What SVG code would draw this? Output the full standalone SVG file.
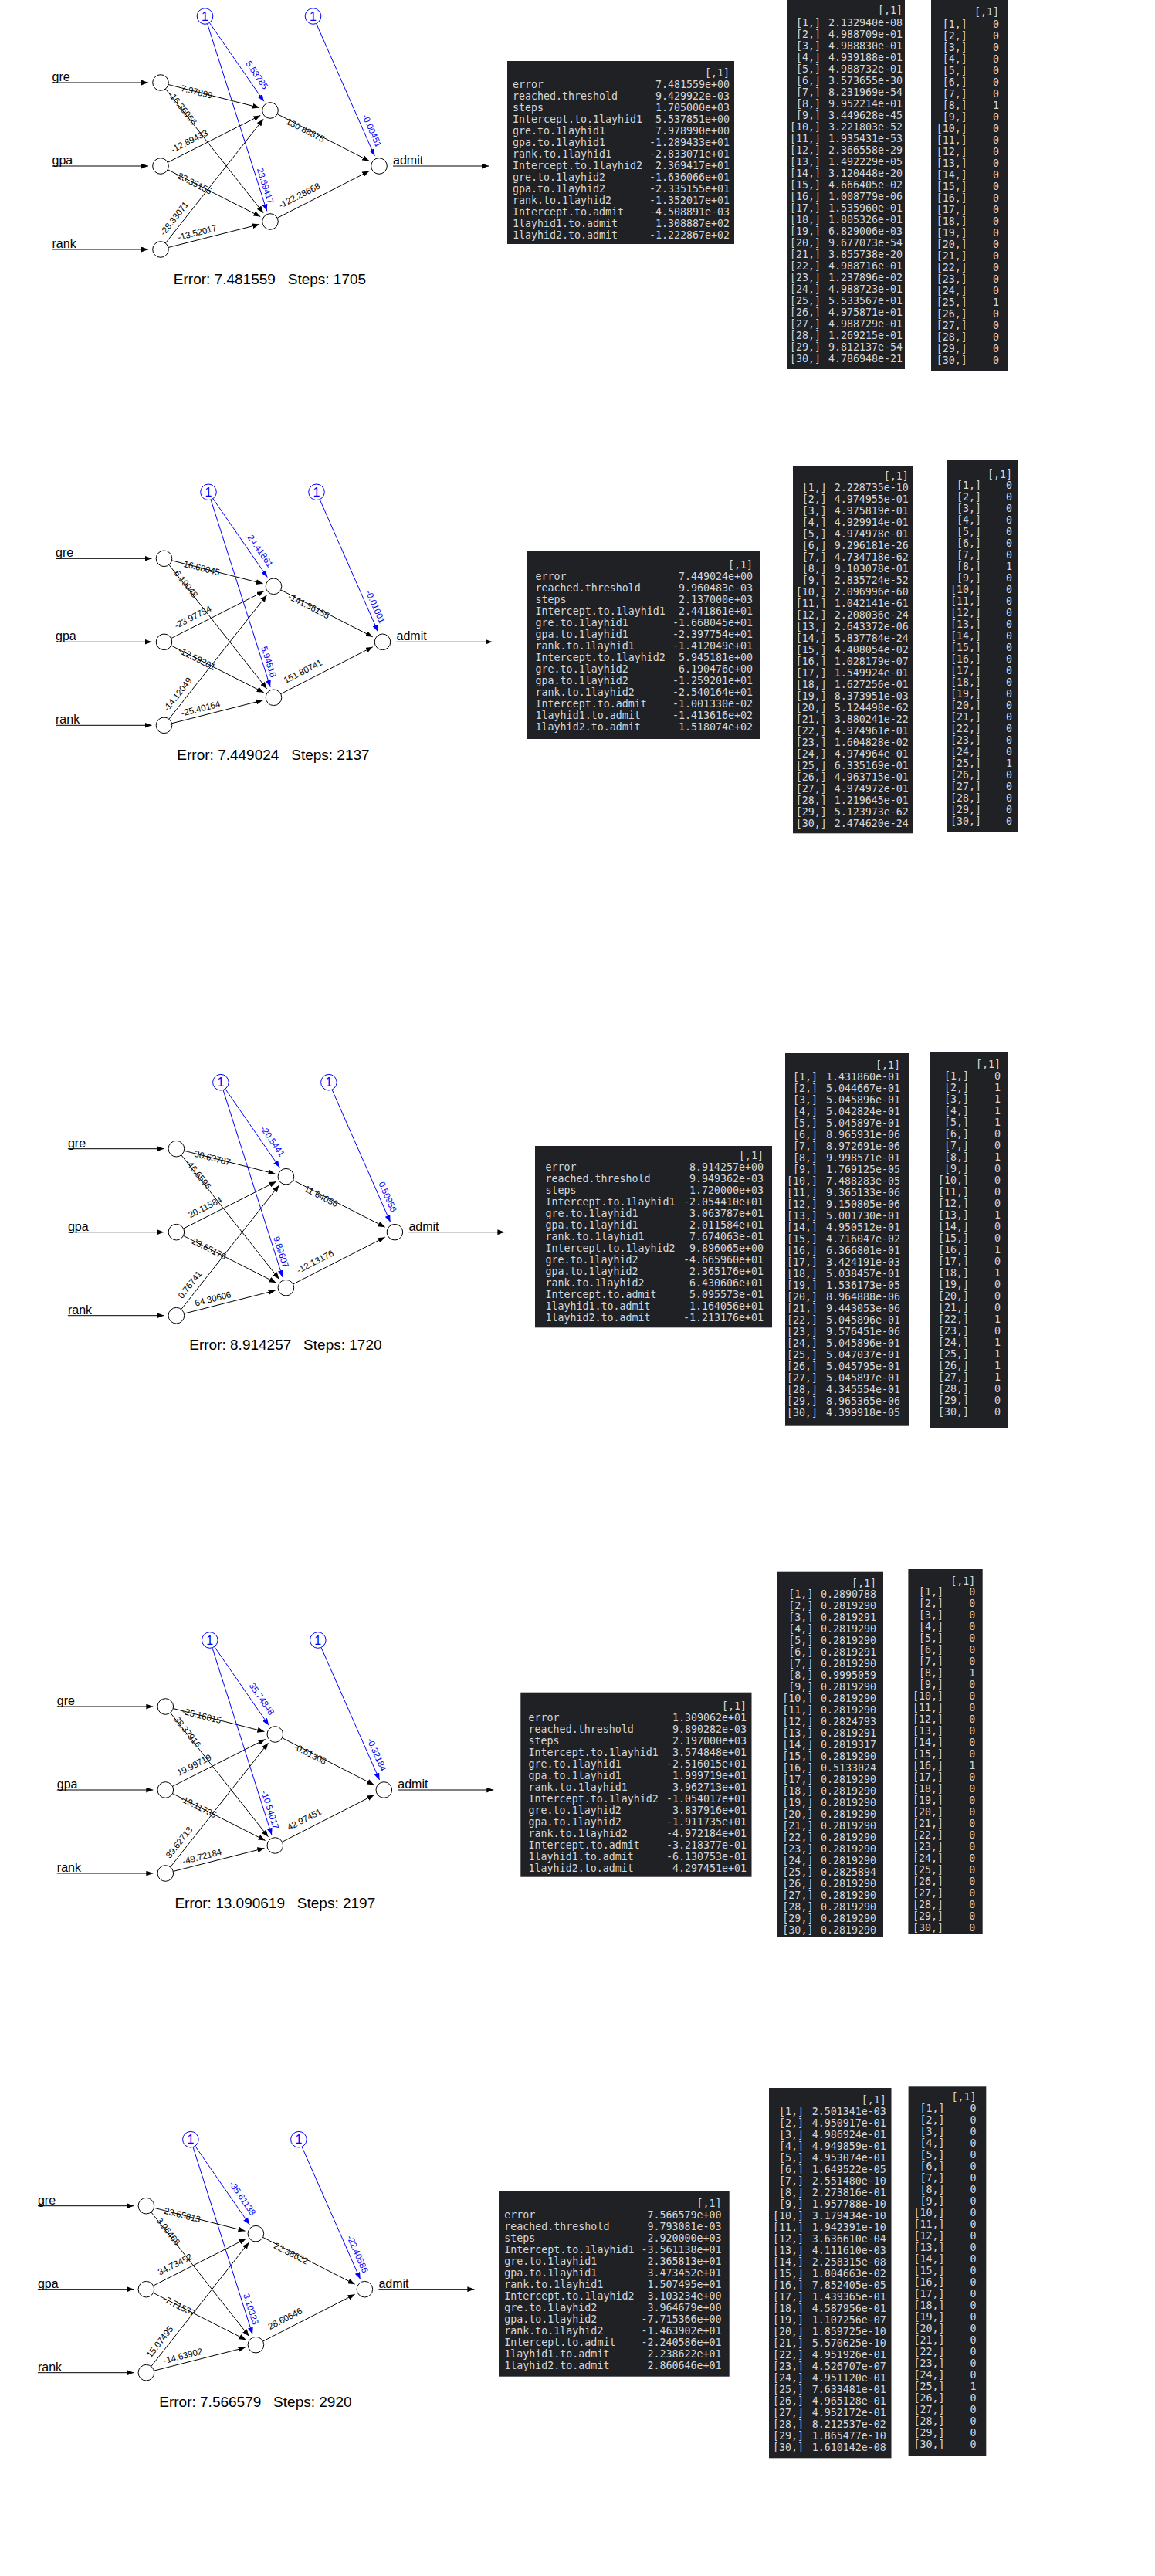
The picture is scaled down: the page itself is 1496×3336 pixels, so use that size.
<svg xmlns="http://www.w3.org/2000/svg" width="1496" height="3336" viewBox="0 0 1496 3336">
<style>
.bgp{fill:#fff}
.n{fill:#fff;stroke:#000;stroke-width:1}
.b{fill:#fff;stroke:#00f;stroke-width:1}
.bt{font-family:"Liberation Sans",Arial,sans-serif;font-size:16px;fill:#00f;text-anchor:middle;dominant-baseline:central}
.c path{fill:none;stroke:#000;stroke-width:1;marker-end:url(#ak)}
.c path.eb{stroke:#00f;marker-end:url(#ab)}
.w{font-family:"Liberation Sans",Arial,sans-serif;font-size:11.5px;fill:#000;text-anchor:middle;dominant-baseline:central}
.wb{fill:#00f}
.lab{font-family:"Liberation Sans",Arial,sans-serif;font-size:16px;fill:#000}
.err{font-family:"Liberation Sans",Arial,sans-serif;font-size:19px;fill:#000;text-anchor:middle;white-space:pre}
.tb{fill:#202124}
.t{font-family:"DejaVu Sans Mono","Liberation Mono",monospace;font-size:13.3px;fill:#d6d6d6;white-space:pre}
.r{text-anchor:end}
</style>
<defs>
<marker id="ak" viewBox="0 0 9 7" refX="9" refY="3.5" markerWidth="9" markerHeight="7" markerUnits="userSpaceOnUse" orient="auto"><path d="M0,0L9,3.5L0,7z" fill="#000"/></marker>
<marker id="ab" viewBox="0 0 9 7" refX="9" refY="3.5" markerWidth="9" markerHeight="7" markerUnits="userSpaceOnUse" orient="auto"><path d="M0,0L9,3.5L0,7z" fill="#00f"/></marker>
</defs>
<rect class="bgp" x="0" y="0" width="1496" height="3336"/>

<!-- ================= PANEL 1 ================= -->
<g id="p1" transform="translate(208,107)">
<g id="p1-connectors" class="c">
<path d="M-140.5,0H-16"/><path d="M-140.5,108H-16"/><path d="M-140.5,216H-16"/>
<path d="M9.98,2.53L128.14,32.49"/><path d="M6.38,8.09L133.14,168.77"/>
<path d="M9.19,103.34L129.25,42.47"/><path d="M9.19,112.66L129.25,173.53"/>
<path d="M6.38,207.91L133.14,47.23"/><path d="M9.98,213.47L128.14,183.51"/>
<path d="M151.17,40.68L270.26,101.5"/><path d="M151.17,175.32L270.26,114.5"/>
<path d="M301,108H425"/>
<path class="eb" d="M63.36,-77.53L133.86,24.25"/><path class="eb" d="M60.62,-76.18L137.67,166.37"/><path class="eb" d="M201.65,-76.57L277.23,94.91"/>
<text class="w" transform="translate(46.9,11.9) rotate(14.23)">7.97899</text>
<text class="w" transform="translate(28.6,33) rotate(51.74)">-16.36066</text>
<text class="w" transform="translate(37.2,75.7) rotate(-26.89)">-12.89433</text>
<text class="w" transform="translate(42.6,129.6) rotate(26.89)">-23.35155</text>
<text class="w" transform="translate(17.6,175.9) rotate(-51.74)">-28.33071</text>
<text class="w" transform="translate(47.4,194.2) rotate(-14.23)">-13.52017</text>
<text class="w" transform="translate(187.6,61.5) rotate(27.05)">130.88875</text>
<text class="w" transform="translate(179.8,146.1) rotate(-27.05)">-122.28668</text>
<text class="w wb" transform="translate(124.8,-9.9) rotate(55.29)">5.53785</text>
<text class="w wb" transform="translate(135.7,133.7) rotate(72.38)">23.69417</text>
<text class="w wb" transform="translate(273.8,62.3) rotate(66.22)">-0.00451</text>
</g>
<g id="p1-gre"><circle class="n" cx="0" cy="0" r="10.3"/><text class="lab" x="-140.5" y="-2">gre</text></g>
<g id="p1-gpa"><circle class="n" cx="0" cy="108" r="10.3"/><text class="lab" x="-140.5" y="106">gpa</text></g>
<g id="p1-rank"><circle class="n" cx="0" cy="216" r="10.3"/><text class="lab" x="-140.5" y="214">rank</text></g>
<g id="p1-h1"><circle class="n" cx="142" cy="36" r="10.3"/></g>
<g id="p1-h2"><circle class="n" cx="142" cy="180" r="10.3"/></g>
<g id="p1-admit"><circle class="n" cx="283" cy="108" r="10.3"/><text class="lab" x="301" y="106">admit</text></g>
<g id="p1-bias1"><circle class="b" cx="57.5" cy="-86" r="10.3"/><text class="bt" x="57.5" y="-86">1</text></g>
<g id="p1-bias2"><circle class="b" cx="197.5" cy="-86" r="10.3"/><text class="bt" x="197.5" y="-86">1</text></g>
<text class="err" x="141.5" y="260.5">Error: 7.481559   Steps: 1705</text>
</g>

<g id="p1-summary">
<rect class="tb" x="657" y="79" width="294" height="237"/>
<text class="t r" x="945" y="98.8">[,1]</text>
<text class="t" x="664" y="98.8"><tspan x="664" dy="15">error</tspan><tspan x="664" dy="15">reached.threshold</tspan><tspan x="664" dy="15">steps</tspan><tspan x="664" dy="15">Intercept.to.1layhid1</tspan><tspan x="664" dy="15">gre.to.1layhid1</tspan><tspan x="664" dy="15">gpa.to.1layhid1</tspan><tspan x="664" dy="15">rank.to.1layhid1</tspan><tspan x="664" dy="15">Intercept.to.1layhid2</tspan><tspan x="664" dy="15">gre.to.1layhid2</tspan><tspan x="664" dy="15">gpa.to.1layhid2</tspan><tspan x="664" dy="15">rank.to.1layhid2</tspan><tspan x="664" dy="15">Intercept.to.admit</tspan><tspan x="664" dy="15">1layhid1.to.admit</tspan><tspan x="664" dy="15">1layhid2.to.admit</tspan></text>
<text class="t r" y="98.8"><tspan x="945" dy="15">7.481559e+00</tspan><tspan x="945" dy="15">9.429922e-03</tspan><tspan x="945" dy="15">1.705000e+03</tspan><tspan x="945" dy="15">5.537851e+00</tspan><tspan x="945" dy="15">7.978990e+00</tspan><tspan x="945" dy="15">-1.289433e+01</tspan><tspan x="945" dy="15">-2.833071e+01</tspan><tspan x="945" dy="15">2.369417e+01</tspan><tspan x="945" dy="15">-1.636066e+01</tspan><tspan x="945" dy="15">-2.335155e+01</tspan><tspan x="945" dy="15">-1.352017e+01</tspan><tspan x="945" dy="15">-4.508891e-03</tspan><tspan x="945" dy="15">1.308887e+02</tspan><tspan x="945" dy="15">-1.222867e+02</tspan></text>
</g>

<g id="p1-probs">
<rect class="tb" x="1019" y="0" width="153" height="478"/>
<text class="t r" x="1169" y="17.8">[,1]</text>
<text class="t r" y="18.8"><tspan x="1063" dy="15">[1,]</tspan><tspan x="1063" dy="15">[2,]</tspan><tspan x="1063" dy="15">[3,]</tspan><tspan x="1063" dy="15">[4,]</tspan><tspan x="1063" dy="15">[5,]</tspan><tspan x="1063" dy="15">[6,]</tspan><tspan x="1063" dy="15">[7,]</tspan><tspan x="1063" dy="15">[8,]</tspan><tspan x="1063" dy="15">[9,]</tspan><tspan x="1063" dy="15">[10,]</tspan><tspan x="1063" dy="15">[11,]</tspan><tspan x="1063" dy="15">[12,]</tspan><tspan x="1063" dy="15">[13,]</tspan><tspan x="1063" dy="15">[14,]</tspan><tspan x="1063" dy="15">[15,]</tspan><tspan x="1063" dy="15">[16,]</tspan><tspan x="1063" dy="15">[17,]</tspan><tspan x="1063" dy="15">[18,]</tspan><tspan x="1063" dy="15">[19,]</tspan><tspan x="1063" dy="15">[20,]</tspan><tspan x="1063" dy="15">[21,]</tspan><tspan x="1063" dy="15">[22,]</tspan><tspan x="1063" dy="15">[23,]</tspan><tspan x="1063" dy="15">[24,]</tspan><tspan x="1063" dy="15">[25,]</tspan><tspan x="1063" dy="15">[26,]</tspan><tspan x="1063" dy="15">[27,]</tspan><tspan x="1063" dy="15">[28,]</tspan><tspan x="1063" dy="15">[29,]</tspan><tspan x="1063" dy="15">[30,]</tspan></text>
<text class="t r" y="18.8"><tspan x="1169" dy="15">2.132940e-08</tspan><tspan x="1169" dy="15">4.988709e-01</tspan><tspan x="1169" dy="15">4.988830e-01</tspan><tspan x="1169" dy="15">4.939188e-01</tspan><tspan x="1169" dy="15">4.988732e-01</tspan><tspan x="1169" dy="15">3.573655e-30</tspan><tspan x="1169" dy="15">8.231969e-54</tspan><tspan x="1169" dy="15">9.952214e-01</tspan><tspan x="1169" dy="15">3.449628e-45</tspan><tspan x="1169" dy="15">3.221803e-52</tspan><tspan x="1169" dy="15">1.935431e-53</tspan><tspan x="1169" dy="15">2.366558e-29</tspan><tspan x="1169" dy="15">1.492229e-05</tspan><tspan x="1169" dy="15">3.120448e-20</tspan><tspan x="1169" dy="15">4.666405e-02</tspan><tspan x="1169" dy="15">1.008779e-06</tspan><tspan x="1169" dy="15">1.535960e-01</tspan><tspan x="1169" dy="15">1.805326e-01</tspan><tspan x="1169" dy="15">6.829006e-03</tspan><tspan x="1169" dy="15">9.677073e-54</tspan><tspan x="1169" dy="15">3.855738e-20</tspan><tspan x="1169" dy="15">4.988716e-01</tspan><tspan x="1169" dy="15">1.237896e-02</tspan><tspan x="1169" dy="15">4.988723e-01</tspan><tspan x="1169" dy="15">5.533567e-01</tspan><tspan x="1169" dy="15">4.975871e-01</tspan><tspan x="1169" dy="15">4.988729e-01</tspan><tspan x="1169" dy="15">1.269215e-01</tspan><tspan x="1169" dy="15">9.812137e-54</tspan><tspan x="1169" dy="15">4.786948e-21</tspan></text>
</g>

<g id="p1-class">
<rect class="tb" x="1206" y="0" width="99" height="480"/>
<text class="t r" x="1294" y="19.5">[,1]</text>
<text class="t r" y="20.5"><tspan x="1252.7" dy="15">[1,]</tspan><tspan x="1252.7" dy="15">[2,]</tspan><tspan x="1252.7" dy="15">[3,]</tspan><tspan x="1252.7" dy="15">[4,]</tspan><tspan x="1252.7" dy="15">[5,]</tspan><tspan x="1252.7" dy="15">[6,]</tspan><tspan x="1252.7" dy="15">[7,]</tspan><tspan x="1252.7" dy="15">[8,]</tspan><tspan x="1252.7" dy="15">[9,]</tspan><tspan x="1252.7" dy="15">[10,]</tspan><tspan x="1252.7" dy="15">[11,]</tspan><tspan x="1252.7" dy="15">[12,]</tspan><tspan x="1252.7" dy="15">[13,]</tspan><tspan x="1252.7" dy="15">[14,]</tspan><tspan x="1252.7" dy="15">[15,]</tspan><tspan x="1252.7" dy="15">[16,]</tspan><tspan x="1252.7" dy="15">[17,]</tspan><tspan x="1252.7" dy="15">[18,]</tspan><tspan x="1252.7" dy="15">[19,]</tspan><tspan x="1252.7" dy="15">[20,]</tspan><tspan x="1252.7" dy="15">[21,]</tspan><tspan x="1252.7" dy="15">[22,]</tspan><tspan x="1252.7" dy="15">[23,]</tspan><tspan x="1252.7" dy="15">[24,]</tspan><tspan x="1252.7" dy="15">[25,]</tspan><tspan x="1252.7" dy="15">[26,]</tspan><tspan x="1252.7" dy="15">[27,]</tspan><tspan x="1252.7" dy="15">[28,]</tspan><tspan x="1252.7" dy="15">[29,]</tspan><tspan x="1252.7" dy="15">[30,]</tspan></text>
<text class="t r" y="20.5"><tspan x="1294" dy="15">0</tspan><tspan x="1294" dy="15">0</tspan><tspan x="1294" dy="15">0</tspan><tspan x="1294" dy="15">0</tspan><tspan x="1294" dy="15">0</tspan><tspan x="1294" dy="15">0</tspan><tspan x="1294" dy="15">0</tspan><tspan x="1294" dy="15">1</tspan><tspan x="1294" dy="15">0</tspan><tspan x="1294" dy="15">0</tspan><tspan x="1294" dy="15">0</tspan><tspan x="1294" dy="15">0</tspan><tspan x="1294" dy="15">0</tspan><tspan x="1294" dy="15">0</tspan><tspan x="1294" dy="15">0</tspan><tspan x="1294" dy="15">0</tspan><tspan x="1294" dy="15">0</tspan><tspan x="1294" dy="15">0</tspan><tspan x="1294" dy="15">0</tspan><tspan x="1294" dy="15">0</tspan><tspan x="1294" dy="15">0</tspan><tspan x="1294" dy="15">0</tspan><tspan x="1294" dy="15">0</tspan><tspan x="1294" dy="15">0</tspan><tspan x="1294" dy="15">1</tspan><tspan x="1294" dy="15">0</tspan><tspan x="1294" dy="15">0</tspan><tspan x="1294" dy="15">0</tspan><tspan x="1294" dy="15">0</tspan><tspan x="1294" dy="15">0</tspan></text>
</g>

<!-- ================= PANEL 2 ================= -->
<g id="p2" transform="translate(212.5,723.3)">
<g id="p2-connectors" class="c">
<path d="M-140.5,0H-16"/><path d="M-140.5,108H-16"/><path d="M-140.5,216H-16"/>
<path d="M9.98,2.53L128.14,32.49"/><path d="M6.38,8.09L133.14,168.77"/>
<path d="M9.19,103.34L129.25,42.47"/><path d="M9.19,112.66L129.25,173.53"/>
<path d="M6.38,207.91L133.14,47.23"/><path d="M9.98,213.47L128.14,183.51"/>
<path d="M151.17,40.68L270.26,101.5"/><path d="M151.17,175.32L270.26,114.5"/>
<path d="M301,108H425"/>
<path class="eb" d="M63.36,-77.53L133.86,24.25"/><path class="eb" d="M60.62,-76.18L137.67,166.37"/><path class="eb" d="M201.65,-76.57L277.23,94.91"/>
<text class="w" transform="translate(46.9,11.9) rotate(14.23)">-16.68045</text>
<text class="w" transform="translate(28.6,33) rotate(51.74)">6.19048</text>
<text class="w" transform="translate(37.2,75.7) rotate(-26.89)">-23.97754</text>
<text class="w" transform="translate(42.6,129.6) rotate(26.89)">-12.59201</text>
<text class="w" transform="translate(17.6,175.9) rotate(-51.74)">-14.12049</text>
<text class="w" transform="translate(47.4,194.2) rotate(-14.23)">-25.40164</text>
<text class="w" transform="translate(187.6,61.5) rotate(27.05)">-141.36155</text>
<text class="w" transform="translate(179.8,146.1) rotate(-27.05)">151.80741</text>
<text class="w wb" transform="translate(124.8,-9.9) rotate(55.29)">24.41861</text>
<text class="w wb" transform="translate(135.7,133.7) rotate(72.38)">5.94518</text>
<text class="w wb" transform="translate(273.8,62.3) rotate(66.22)">-0.01001</text>
</g>
<g id="p2-gre"><circle class="n" cx="0" cy="0" r="10.3"/><text class="lab" x="-140.5" y="-2">gre</text></g>
<g id="p2-gpa"><circle class="n" cx="0" cy="108" r="10.3"/><text class="lab" x="-140.5" y="106">gpa</text></g>
<g id="p2-rank"><circle class="n" cx="0" cy="216" r="10.3"/><text class="lab" x="-140.5" y="214">rank</text></g>
<g id="p2-h1"><circle class="n" cx="142" cy="36" r="10.3"/></g>
<g id="p2-h2"><circle class="n" cx="142" cy="180" r="10.3"/></g>
<g id="p2-admit"><circle class="n" cx="283" cy="108" r="10.3"/><text class="lab" x="301" y="106">admit</text></g>
<g id="p2-bias1"><circle class="b" cx="57.5" cy="-86" r="10.3"/><text class="bt" x="57.5" y="-86">1</text></g>
<g id="p2-bias2"><circle class="b" cx="197.5" cy="-86" r="10.3"/><text class="bt" x="197.5" y="-86">1</text></g>
<text class="err" x="141.5" y="260.5">Error: 7.449024   Steps: 2137</text>
</g>

<g id="p2-summary">
<rect class="tb" x="683" y="714" width="302" height="243"/>
<text class="t r" x="975" y="736.2">[,1]</text>
<text class="t" y="736.2"><tspan x="693.6" dy="15">error</tspan><tspan x="693.6" dy="15">reached.threshold</tspan><tspan x="693.6" dy="15">steps</tspan><tspan x="693.6" dy="15">Intercept.to.1layhid1</tspan><tspan x="693.6" dy="15">gre.to.1layhid1</tspan><tspan x="693.6" dy="15">gpa.to.1layhid1</tspan><tspan x="693.6" dy="15">rank.to.1layhid1</tspan><tspan x="693.6" dy="15">Intercept.to.1layhid2</tspan><tspan x="693.6" dy="15">gre.to.1layhid2</tspan><tspan x="693.6" dy="15">gpa.to.1layhid2</tspan><tspan x="693.6" dy="15">rank.to.1layhid2</tspan><tspan x="693.6" dy="15">Intercept.to.admit</tspan><tspan x="693.6" dy="15">1layhid1.to.admit</tspan><tspan x="693.6" dy="15">1layhid2.to.admit</tspan></text>
<text class="t r" y="736.2"><tspan x="975" dy="15">7.449024e+00</tspan><tspan x="975" dy="15">9.960483e-03</tspan><tspan x="975" dy="15">2.137000e+03</tspan><tspan x="975" dy="15">2.441861e+01</tspan><tspan x="975" dy="15">-1.668045e+01</tspan><tspan x="975" dy="15">-2.397754e+01</tspan><tspan x="975" dy="15">-1.412049e+01</tspan><tspan x="975" dy="15">5.945181e+00</tspan><tspan x="975" dy="15">6.190476e+00</tspan><tspan x="975" dy="15">-1.259201e+01</tspan><tspan x="975" dy="15">-2.540164e+01</tspan><tspan x="975" dy="15">-1.001330e-02</tspan><tspan x="975" dy="15">-1.413616e+02</tspan><tspan x="975" dy="15">1.518074e+02</tspan></text>
</g>

<g id="p2-probs">
<rect class="tb" x="1027" y="603.3" width="155" height="476"/>
<text class="t r" x="1176.8" y="621.2">[,1]</text>
<text class="t r" y="621.2"><tspan x="1070.7" dy="15">[1,]</tspan><tspan x="1070.7" dy="15">[2,]</tspan><tspan x="1070.7" dy="15">[3,]</tspan><tspan x="1070.7" dy="15">[4,]</tspan><tspan x="1070.7" dy="15">[5,]</tspan><tspan x="1070.7" dy="15">[6,]</tspan><tspan x="1070.7" dy="15">[7,]</tspan><tspan x="1070.7" dy="15">[8,]</tspan><tspan x="1070.7" dy="15">[9,]</tspan><tspan x="1070.7" dy="15">[10,]</tspan><tspan x="1070.7" dy="15">[11,]</tspan><tspan x="1070.7" dy="15">[12,]</tspan><tspan x="1070.7" dy="15">[13,]</tspan><tspan x="1070.7" dy="15">[14,]</tspan><tspan x="1070.7" dy="15">[15,]</tspan><tspan x="1070.7" dy="15">[16,]</tspan><tspan x="1070.7" dy="15">[17,]</tspan><tspan x="1070.7" dy="15">[18,]</tspan><tspan x="1070.7" dy="15">[19,]</tspan><tspan x="1070.7" dy="15">[20,]</tspan><tspan x="1070.7" dy="15">[21,]</tspan><tspan x="1070.7" dy="15">[22,]</tspan><tspan x="1070.7" dy="15">[23,]</tspan><tspan x="1070.7" dy="15">[24,]</tspan><tspan x="1070.7" dy="15">[25,]</tspan><tspan x="1070.7" dy="15">[26,]</tspan><tspan x="1070.7" dy="15">[27,]</tspan><tspan x="1070.7" dy="15">[28,]</tspan><tspan x="1070.7" dy="15">[29,]</tspan><tspan x="1070.7" dy="15">[30,]</tspan></text>
<text class="t r" y="621.2"><tspan x="1176.8" dy="15">2.228735e-10</tspan><tspan x="1176.8" dy="15">4.974955e-01</tspan><tspan x="1176.8" dy="15">4.975819e-01</tspan><tspan x="1176.8" dy="15">4.929914e-01</tspan><tspan x="1176.8" dy="15">4.974978e-01</tspan><tspan x="1176.8" dy="15">9.296181e-26</tspan><tspan x="1176.8" dy="15">4.734718e-62</tspan><tspan x="1176.8" dy="15">9.103078e-01</tspan><tspan x="1176.8" dy="15">2.835724e-52</tspan><tspan x="1176.8" dy="15">2.096996e-60</tspan><tspan x="1176.8" dy="15">1.042141e-61</tspan><tspan x="1176.8" dy="15">2.208036e-24</tspan><tspan x="1176.8" dy="15">2.643372e-06</tspan><tspan x="1176.8" dy="15">5.837784e-24</tspan><tspan x="1176.8" dy="15">4.408054e-02</tspan><tspan x="1176.8" dy="15">1.028179e-07</tspan><tspan x="1176.8" dy="15">1.549924e-01</tspan><tspan x="1176.8" dy="15">1.627256e-01</tspan><tspan x="1176.8" dy="15">8.373951e-03</tspan><tspan x="1176.8" dy="15">5.124498e-62</tspan><tspan x="1176.8" dy="15">3.880241e-22</tspan><tspan x="1176.8" dy="15">4.974961e-01</tspan><tspan x="1176.8" dy="15">1.604828e-02</tspan><tspan x="1176.8" dy="15">4.974964e-01</tspan><tspan x="1176.8" dy="15">6.335169e-01</tspan><tspan x="1176.8" dy="15">4.963715e-01</tspan><tspan x="1176.8" dy="15">4.974972e-01</tspan><tspan x="1176.8" dy="15">1.219645e-01</tspan><tspan x="1176.8" dy="15">5.123973e-62</tspan><tspan x="1176.8" dy="15">2.474620e-24</tspan></text>
</g>

<g id="p2-class">
<rect class="tb" x="1227" y="596" width="91" height="481"/>
<text class="t r" x="1311" y="618.5">[,1]</text>
<text class="t r" y="617.8"><tspan x="1271" dy="15">[1,]</tspan><tspan x="1271" dy="15">[2,]</tspan><tspan x="1271" dy="15">[3,]</tspan><tspan x="1271" dy="15">[4,]</tspan><tspan x="1271" dy="15">[5,]</tspan><tspan x="1271" dy="15">[6,]</tspan><tspan x="1271" dy="15">[7,]</tspan><tspan x="1271" dy="15">[8,]</tspan><tspan x="1271" dy="15">[9,]</tspan><tspan x="1271" dy="15">[10,]</tspan><tspan x="1271" dy="15">[11,]</tspan><tspan x="1271" dy="15">[12,]</tspan><tspan x="1271" dy="15">[13,]</tspan><tspan x="1271" dy="15">[14,]</tspan><tspan x="1271" dy="15">[15,]</tspan><tspan x="1271" dy="15">[16,]</tspan><tspan x="1271" dy="15">[17,]</tspan><tspan x="1271" dy="15">[18,]</tspan><tspan x="1271" dy="15">[19,]</tspan><tspan x="1271" dy="15">[20,]</tspan><tspan x="1271" dy="15">[21,]</tspan><tspan x="1271" dy="15">[22,]</tspan><tspan x="1271" dy="15">[23,]</tspan><tspan x="1271" dy="15">[24,]</tspan><tspan x="1271" dy="15">[25,]</tspan><tspan x="1271" dy="15">[26,]</tspan><tspan x="1271" dy="15">[27,]</tspan><tspan x="1271" dy="15">[28,]</tspan><tspan x="1271" dy="15">[29,]</tspan><tspan x="1271" dy="15">[30,]</tspan></text>
<text class="t r" y="617.8"><tspan x="1311" dy="15">0</tspan><tspan x="1311" dy="15">0</tspan><tspan x="1311" dy="15">0</tspan><tspan x="1311" dy="15">0</tspan><tspan x="1311" dy="15">0</tspan><tspan x="1311" dy="15">0</tspan><tspan x="1311" dy="15">0</tspan><tspan x="1311" dy="15">1</tspan><tspan x="1311" dy="15">0</tspan><tspan x="1311" dy="15">0</tspan><tspan x="1311" dy="15">0</tspan><tspan x="1311" dy="15">0</tspan><tspan x="1311" dy="15">0</tspan><tspan x="1311" dy="15">0</tspan><tspan x="1311" dy="15">0</tspan><tspan x="1311" dy="15">0</tspan><tspan x="1311" dy="15">0</tspan><tspan x="1311" dy="15">0</tspan><tspan x="1311" dy="15">0</tspan><tspan x="1311" dy="15">0</tspan><tspan x="1311" dy="15">0</tspan><tspan x="1311" dy="15">0</tspan><tspan x="1311" dy="15">0</tspan><tspan x="1311" dy="15">0</tspan><tspan x="1311" dy="15">1</tspan><tspan x="1311" dy="15">0</tspan><tspan x="1311" dy="15">0</tspan><tspan x="1311" dy="15">0</tspan><tspan x="1311" dy="15">0</tspan><tspan x="1311" dy="15">0</tspan></text>
</g>

<!-- ================= PANEL 3 ================= -->
<g id="p3" transform="translate(228.4,1487.7)">
<g id="p3-connectors" class="c">
<path d="M-140.5,0H-16"/><path d="M-140.5,108H-16"/><path d="M-140.5,216H-16"/>
<path d="M9.98,2.53L128.14,32.49"/><path d="M6.38,8.09L133.14,168.77"/>
<path d="M9.19,103.34L129.25,42.47"/><path d="M9.19,112.66L129.25,173.53"/>
<path d="M6.38,207.91L133.14,47.23"/><path d="M9.98,213.47L128.14,183.51"/>
<path d="M151.17,40.68L270.26,101.5"/><path d="M151.17,175.32L270.26,114.5"/>
<path d="M301,108H425"/>
<path class="eb" d="M63.36,-77.53L133.86,24.25"/><path class="eb" d="M60.62,-76.18L137.67,166.37"/><path class="eb" d="M201.65,-76.57L277.23,94.91"/>
<text class="w" transform="translate(46.9,11.9) rotate(14.23)">30.63787</text>
<text class="w" transform="translate(28.6,33) rotate(51.74)">-46.6596</text>
<text class="w" transform="translate(37.2,75.7) rotate(-26.89)">20.11584</text>
<text class="w" transform="translate(42.6,129.6) rotate(26.89)">23.65176</text>
<text class="w" transform="translate(17.6,175.9) rotate(-51.74)">0.76741</text>
<text class="w" transform="translate(47.4,194.2) rotate(-14.23)">64.30606</text>
<text class="w" transform="translate(187.6,61.5) rotate(27.05)">11.64056</text>
<text class="w" transform="translate(179.8,146.1) rotate(-27.05)">-12.13176</text>
<text class="w wb" transform="translate(124.8,-9.9) rotate(55.29)">-20.5441</text>
<text class="w wb" transform="translate(135.7,133.7) rotate(72.38)">9.89607</text>
<text class="w wb" transform="translate(273.8,62.3) rotate(66.22)">0.50956</text>
</g>
<g id="p3-gre"><circle class="n" cx="0" cy="0" r="10.3"/><text class="lab" x="-140.5" y="-2">gre</text></g>
<g id="p3-gpa"><circle class="n" cx="0" cy="108" r="10.3"/><text class="lab" x="-140.5" y="106">gpa</text></g>
<g id="p3-rank"><circle class="n" cx="0" cy="216" r="10.3"/><text class="lab" x="-140.5" y="214">rank</text></g>
<g id="p3-h1"><circle class="n" cx="142" cy="36" r="10.3"/></g>
<g id="p3-h2"><circle class="n" cx="142" cy="180" r="10.3"/></g>
<g id="p3-admit"><circle class="n" cx="283" cy="108" r="10.3"/><text class="lab" x="301" y="106">admit</text></g>
<g id="p3-bias1"><circle class="b" cx="57.5" cy="-86" r="10.3"/><text class="bt" x="57.5" y="-86">1</text></g>
<g id="p3-bias2"><circle class="b" cx="197.5" cy="-86" r="10.3"/><text class="bt" x="197.5" y="-86">1</text></g>
<text class="err" x="141.5" y="260.5">Error: 8.914257   Steps: 1720</text>
</g>

<g id="p3-summary">
<rect class="tb" x="693" y="1484" width="307" height="235.3"/>
<text class="t r" x="989" y="1501.2">[,1]</text>
<text class="t" y="1501.2"><tspan x="706.4" dy="15">error</tspan><tspan x="706.4" dy="15">reached.threshold</tspan><tspan x="706.4" dy="15">steps</tspan><tspan x="706.4" dy="15">Intercept.to.1layhid1</tspan><tspan x="706.4" dy="15">gre.to.1layhid1</tspan><tspan x="706.4" dy="15">gpa.to.1layhid1</tspan><tspan x="706.4" dy="15">rank.to.1layhid1</tspan><tspan x="706.4" dy="15">Intercept.to.1layhid2</tspan><tspan x="706.4" dy="15">gre.to.1layhid2</tspan><tspan x="706.4" dy="15">gpa.to.1layhid2</tspan><tspan x="706.4" dy="15">rank.to.1layhid2</tspan><tspan x="706.4" dy="15">Intercept.to.admit</tspan><tspan x="706.4" dy="15">1layhid1.to.admit</tspan><tspan x="706.4" dy="15">1layhid2.to.admit</tspan></text>
<text class="t r" y="1501.2"><tspan x="989" dy="15">8.914257e+00</tspan><tspan x="989" dy="15">9.949362e-03</tspan><tspan x="989" dy="15">1.720000e+03</tspan><tspan x="989" dy="15">-2.054410e+01</tspan><tspan x="989" dy="15">3.063787e+01</tspan><tspan x="989" dy="15">2.011584e+01</tspan><tspan x="989" dy="15">7.674063e-01</tspan><tspan x="989" dy="15">9.896065e+00</tspan><tspan x="989" dy="15">-4.665960e+01</tspan><tspan x="989" dy="15">2.365176e+01</tspan><tspan x="989" dy="15">6.430606e+01</tspan><tspan x="989" dy="15">5.095573e-01</tspan><tspan x="989" dy="15">1.164056e+01</tspan><tspan x="989" dy="15">-1.213176e+01</tspan></text>
</g>

<g id="p3-probs">
<rect class="tb" x="1017" y="1364" width="160" height="482.7"/>
<text class="t r" x="1166" y="1383.8">[,1]</text>
<text class="t r" y="1383.8"><tspan x="1059" dy="15">[1,]</tspan><tspan x="1059" dy="15">[2,]</tspan><tspan x="1059" dy="15">[3,]</tspan><tspan x="1059" dy="15">[4,]</tspan><tspan x="1059" dy="15">[5,]</tspan><tspan x="1059" dy="15">[6,]</tspan><tspan x="1059" dy="15">[7,]</tspan><tspan x="1059" dy="15">[8,]</tspan><tspan x="1059" dy="15">[9,]</tspan><tspan x="1059" dy="15">[10,]</tspan><tspan x="1059" dy="15">[11,]</tspan><tspan x="1059" dy="15">[12,]</tspan><tspan x="1059" dy="15">[13,]</tspan><tspan x="1059" dy="15">[14,]</tspan><tspan x="1059" dy="15">[15,]</tspan><tspan x="1059" dy="15">[16,]</tspan><tspan x="1059" dy="15">[17,]</tspan><tspan x="1059" dy="15">[18,]</tspan><tspan x="1059" dy="15">[19,]</tspan><tspan x="1059" dy="15">[20,]</tspan><tspan x="1059" dy="15">[21,]</tspan><tspan x="1059" dy="15">[22,]</tspan><tspan x="1059" dy="15">[23,]</tspan><tspan x="1059" dy="15">[24,]</tspan><tspan x="1059" dy="15">[25,]</tspan><tspan x="1059" dy="15">[26,]</tspan><tspan x="1059" dy="15">[27,]</tspan><tspan x="1059" dy="15">[28,]</tspan><tspan x="1059" dy="15">[29,]</tspan><tspan x="1059" dy="15">[30,]</tspan></text>
<text class="t r" y="1383.8"><tspan x="1166" dy="15">1.431860e-01</tspan><tspan x="1166" dy="15">5.044667e-01</tspan><tspan x="1166" dy="15">5.045896e-01</tspan><tspan x="1166" dy="15">5.042824e-01</tspan><tspan x="1166" dy="15">5.045897e-01</tspan><tspan x="1166" dy="15">8.965931e-06</tspan><tspan x="1166" dy="15">8.972691e-06</tspan><tspan x="1166" dy="15">9.998571e-01</tspan><tspan x="1166" dy="15">1.769125e-05</tspan><tspan x="1166" dy="15">7.488283e-05</tspan><tspan x="1166" dy="15">9.365133e-06</tspan><tspan x="1166" dy="15">9.150805e-06</tspan><tspan x="1166" dy="15">5.001730e-01</tspan><tspan x="1166" dy="15">4.950512e-01</tspan><tspan x="1166" dy="15">4.716047e-02</tspan><tspan x="1166" dy="15">6.366801e-01</tspan><tspan x="1166" dy="15">3.424191e-03</tspan><tspan x="1166" dy="15">5.038457e-01</tspan><tspan x="1166" dy="15">1.536173e-05</tspan><tspan x="1166" dy="15">8.964888e-06</tspan><tspan x="1166" dy="15">9.443053e-06</tspan><tspan x="1166" dy="15">5.045896e-01</tspan><tspan x="1166" dy="15">9.576451e-06</tspan><tspan x="1166" dy="15">5.045896e-01</tspan><tspan x="1166" dy="15">5.047037e-01</tspan><tspan x="1166" dy="15">5.045795e-01</tspan><tspan x="1166" dy="15">5.045897e-01</tspan><tspan x="1166" dy="15">4.345554e-01</tspan><tspan x="1166" dy="15">8.965365e-06</tspan><tspan x="1166" dy="15">4.399918e-05</tspan></text>
</g>

<g id="p3-class">
<rect class="tb" x="1204" y="1362" width="101" height="487"/>
<text class="t r" x="1296" y="1382.8">[,1]</text>
<text class="t r" y="1382.8"><tspan x="1255" dy="15">[1,]</tspan><tspan x="1255" dy="15">[2,]</tspan><tspan x="1255" dy="15">[3,]</tspan><tspan x="1255" dy="15">[4,]</tspan><tspan x="1255" dy="15">[5,]</tspan><tspan x="1255" dy="15">[6,]</tspan><tspan x="1255" dy="15">[7,]</tspan><tspan x="1255" dy="15">[8,]</tspan><tspan x="1255" dy="15">[9,]</tspan><tspan x="1255" dy="15">[10,]</tspan><tspan x="1255" dy="15">[11,]</tspan><tspan x="1255" dy="15">[12,]</tspan><tspan x="1255" dy="15">[13,]</tspan><tspan x="1255" dy="15">[14,]</tspan><tspan x="1255" dy="15">[15,]</tspan><tspan x="1255" dy="15">[16,]</tspan><tspan x="1255" dy="15">[17,]</tspan><tspan x="1255" dy="15">[18,]</tspan><tspan x="1255" dy="15">[19,]</tspan><tspan x="1255" dy="15">[20,]</tspan><tspan x="1255" dy="15">[21,]</tspan><tspan x="1255" dy="15">[22,]</tspan><tspan x="1255" dy="15">[23,]</tspan><tspan x="1255" dy="15">[24,]</tspan><tspan x="1255" dy="15">[25,]</tspan><tspan x="1255" dy="15">[26,]</tspan><tspan x="1255" dy="15">[27,]</tspan><tspan x="1255" dy="15">[28,]</tspan><tspan x="1255" dy="15">[29,]</tspan><tspan x="1255" dy="15">[30,]</tspan></text>
<text class="t r" y="1382.8"><tspan x="1296" dy="15">0</tspan><tspan x="1296" dy="15">1</tspan><tspan x="1296" dy="15">1</tspan><tspan x="1296" dy="15">1</tspan><tspan x="1296" dy="15">1</tspan><tspan x="1296" dy="15">0</tspan><tspan x="1296" dy="15">0</tspan><tspan x="1296" dy="15">1</tspan><tspan x="1296" dy="15">0</tspan><tspan x="1296" dy="15">0</tspan><tspan x="1296" dy="15">0</tspan><tspan x="1296" dy="15">0</tspan><tspan x="1296" dy="15">1</tspan><tspan x="1296" dy="15">0</tspan><tspan x="1296" dy="15">0</tspan><tspan x="1296" dy="15">1</tspan><tspan x="1296" dy="15">0</tspan><tspan x="1296" dy="15">1</tspan><tspan x="1296" dy="15">0</tspan><tspan x="1296" dy="15">0</tspan><tspan x="1296" dy="15">0</tspan><tspan x="1296" dy="15">1</tspan><tspan x="1296" dy="15">0</tspan><tspan x="1296" dy="15">1</tspan><tspan x="1296" dy="15">1</tspan><tspan x="1296" dy="15">1</tspan><tspan x="1296" dy="15">1</tspan><tspan x="1296" dy="15">0</tspan><tspan x="1296" dy="15">0</tspan><tspan x="1296" dy="15">0</tspan></text>
</g>

<!-- ================= PANEL 4 ================= -->
<g id="p4" transform="translate(214.3,2210)">
<g id="p4-connectors" class="c">
<path d="M-140.5,0H-16"/><path d="M-140.5,108H-16"/><path d="M-140.5,216H-16"/>
<path d="M9.98,2.53L128.14,32.49"/><path d="M6.38,8.09L133.14,168.77"/>
<path d="M9.19,103.34L129.25,42.47"/><path d="M9.19,112.66L129.25,173.53"/>
<path d="M6.38,207.91L133.14,47.23"/><path d="M9.98,213.47L128.14,183.51"/>
<path d="M151.17,40.68L270.26,101.5"/><path d="M151.17,175.32L270.26,114.5"/>
<path d="M301,108H425"/>
<path class="eb" d="M63.36,-77.53L133.86,24.25"/><path class="eb" d="M60.62,-76.18L137.67,166.37"/><path class="eb" d="M201.65,-76.57L277.23,94.91"/>
<text class="w" transform="translate(46.9,11.9) rotate(14.23)">-25.16015</text>
<text class="w" transform="translate(28.6,33) rotate(51.74)">38.37916</text>
<text class="w" transform="translate(37.2,75.7) rotate(-26.89)">19.99719</text>
<text class="w" transform="translate(42.6,129.6) rotate(26.89)">-19.11735</text>
<text class="w" transform="translate(17.6,175.9) rotate(-51.74)">39.62713</text>
<text class="w" transform="translate(47.4,194.2) rotate(-14.23)">-49.72184</text>
<text class="w" transform="translate(187.6,61.5) rotate(27.05)">-0.61308</text>
<text class="w" transform="translate(179.8,146.1) rotate(-27.05)">42.97451</text>
<text class="w wb" transform="translate(124.8,-9.9) rotate(55.29)">35.74848</text>
<text class="w wb" transform="translate(135.7,133.7) rotate(72.38)">-10.54017</text>
<text class="w wb" transform="translate(273.8,62.3) rotate(66.22)">-0.32184</text>
</g>
<g id="p4-gre"><circle class="n" cx="0" cy="0" r="10.3"/><text class="lab" x="-140.5" y="-2">gre</text></g>
<g id="p4-gpa"><circle class="n" cx="0" cy="108" r="10.3"/><text class="lab" x="-140.5" y="106">gpa</text></g>
<g id="p4-rank"><circle class="n" cx="0" cy="216" r="10.3"/><text class="lab" x="-140.5" y="214">rank</text></g>
<g id="p4-h1"><circle class="n" cx="142" cy="36" r="10.3"/></g>
<g id="p4-h2"><circle class="n" cx="142" cy="180" r="10.3"/></g>
<g id="p4-admit"><circle class="n" cx="283" cy="108" r="10.3"/><text class="lab" x="301" y="106">admit</text></g>
<g id="p4-bias1"><circle class="b" cx="57.5" cy="-86" r="10.3"/><text class="bt" x="57.5" y="-86">1</text></g>
<g id="p4-bias2"><circle class="b" cx="197.5" cy="-86" r="10.3"/><text class="bt" x="197.5" y="-86">1</text></g>
<text class="err" x="142" y="260.5">Error: 13.090619   Steps: 2197</text>
</g>

<g id="p4-summary">
<rect class="tb" x="674.3" y="2191.7" width="299.2" height="239"/>
<text class="t r" x="967" y="2213.8">[,1]</text>
<text class="t" y="2213.8"><tspan x="684.6" dy="15">error</tspan><tspan x="684.6" dy="15">reached.threshold</tspan><tspan x="684.6" dy="15">steps</tspan><tspan x="684.6" dy="15">Intercept.to.1layhid1</tspan><tspan x="684.6" dy="15">gre.to.1layhid1</tspan><tspan x="684.6" dy="15">gpa.to.1layhid1</tspan><tspan x="684.6" dy="15">rank.to.1layhid1</tspan><tspan x="684.6" dy="15">Intercept.to.1layhid2</tspan><tspan x="684.6" dy="15">gre.to.1layhid2</tspan><tspan x="684.6" dy="15">gpa.to.1layhid2</tspan><tspan x="684.6" dy="15">rank.to.1layhid2</tspan><tspan x="684.6" dy="15">Intercept.to.admit</tspan><tspan x="684.6" dy="15">1layhid1.to.admit</tspan><tspan x="684.6" dy="15">1layhid2.to.admit</tspan></text>
<text class="t r" y="2213.8"><tspan x="967" dy="15">1.309062e+01</tspan><tspan x="967" dy="15">9.890282e-03</tspan><tspan x="967" dy="15">2.197000e+03</tspan><tspan x="967" dy="15">3.574848e+01</tspan><tspan x="967" dy="15">-2.516015e+01</tspan><tspan x="967" dy="15">1.999719e+01</tspan><tspan x="967" dy="15">3.962713e+01</tspan><tspan x="967" dy="15">-1.054017e+01</tspan><tspan x="967" dy="15">3.837916e+01</tspan><tspan x="967" dy="15">-1.911735e+01</tspan><tspan x="967" dy="15">-4.972184e+01</tspan><tspan x="967" dy="15">-3.218377e-01</tspan><tspan x="967" dy="15">-6.130753e-01</tspan><tspan x="967" dy="15">4.297451e+01</tspan></text>
</g>

<g id="p4-probs">
<rect class="tb" x="1006.9" y="2035.7" width="137.1" height="473.3"/>
<text class="t r" x="1135" y="2054.5">[,1]</text>
<text class="t r" y="2053.8"><tspan x="1053.4" dy="15">[1,]</tspan><tspan x="1053.4" dy="15">[2,]</tspan><tspan x="1053.4" dy="15">[3,]</tspan><tspan x="1053.4" dy="15">[4,]</tspan><tspan x="1053.4" dy="15">[5,]</tspan><tspan x="1053.4" dy="15">[6,]</tspan><tspan x="1053.4" dy="15">[7,]</tspan><tspan x="1053.4" dy="15">[8,]</tspan><tspan x="1053.4" dy="15">[9,]</tspan><tspan x="1053.4" dy="15">[10,]</tspan><tspan x="1053.4" dy="15">[11,]</tspan><tspan x="1053.4" dy="15">[12,]</tspan><tspan x="1053.4" dy="15">[13,]</tspan><tspan x="1053.4" dy="15">[14,]</tspan><tspan x="1053.4" dy="15">[15,]</tspan><tspan x="1053.4" dy="15">[16,]</tspan><tspan x="1053.4" dy="15">[17,]</tspan><tspan x="1053.4" dy="15">[18,]</tspan><tspan x="1053.4" dy="15">[19,]</tspan><tspan x="1053.4" dy="15">[20,]</tspan><tspan x="1053.4" dy="15">[21,]</tspan><tspan x="1053.4" dy="15">[22,]</tspan><tspan x="1053.4" dy="15">[23,]</tspan><tspan x="1053.4" dy="15">[24,]</tspan><tspan x="1053.4" dy="15">[25,]</tspan><tspan x="1053.4" dy="15">[26,]</tspan><tspan x="1053.4" dy="15">[27,]</tspan><tspan x="1053.4" dy="15">[28,]</tspan><tspan x="1053.4" dy="15">[29,]</tspan><tspan x="1053.4" dy="15">[30,]</tspan></text>
<text class="t r" y="2053.8"><tspan x="1135" dy="15">0.2890788</tspan><tspan x="1135" dy="15">0.2819290</tspan><tspan x="1135" dy="15">0.2819291</tspan><tspan x="1135" dy="15">0.2819290</tspan><tspan x="1135" dy="15">0.2819290</tspan><tspan x="1135" dy="15">0.2819291</tspan><tspan x="1135" dy="15">0.2819290</tspan><tspan x="1135" dy="15">0.9995059</tspan><tspan x="1135" dy="15">0.2819290</tspan><tspan x="1135" dy="15">0.2819290</tspan><tspan x="1135" dy="15">0.2819290</tspan><tspan x="1135" dy="15">0.2824793</tspan><tspan x="1135" dy="15">0.2819291</tspan><tspan x="1135" dy="15">0.2819317</tspan><tspan x="1135" dy="15">0.2819290</tspan><tspan x="1135" dy="15">0.5133024</tspan><tspan x="1135" dy="15">0.2819290</tspan><tspan x="1135" dy="15">0.2819290</tspan><tspan x="1135" dy="15">0.2819290</tspan><tspan x="1135" dy="15">0.2819290</tspan><tspan x="1135" dy="15">0.2819290</tspan><tspan x="1135" dy="15">0.2819290</tspan><tspan x="1135" dy="15">0.2819290</tspan><tspan x="1135" dy="15">0.2819290</tspan><tspan x="1135" dy="15">0.2825894</tspan><tspan x="1135" dy="15">0.2819290</tspan><tspan x="1135" dy="15">0.2819290</tspan><tspan x="1135" dy="15">0.2819290</tspan><tspan x="1135" dy="15">0.2819290</tspan><tspan x="1135" dy="15">0.2819290</tspan></text>
</g>

<g id="p4-class">
<rect class="tb" x="1176.4" y="2032" width="96.3" height="473"/>
<text class="t r" x="1263.3" y="2051.8">[,1]</text>
<text class="t r" y="2051.2"><tspan x="1222" dy="15">[1,]</tspan><tspan x="1222" dy="15">[2,]</tspan><tspan x="1222" dy="15">[3,]</tspan><tspan x="1222" dy="15">[4,]</tspan><tspan x="1222" dy="15">[5,]</tspan><tspan x="1222" dy="15">[6,]</tspan><tspan x="1222" dy="15">[7,]</tspan><tspan x="1222" dy="15">[8,]</tspan><tspan x="1222" dy="15">[9,]</tspan><tspan x="1222" dy="15">[10,]</tspan><tspan x="1222" dy="15">[11,]</tspan><tspan x="1222" dy="15">[12,]</tspan><tspan x="1222" dy="15">[13,]</tspan><tspan x="1222" dy="15">[14,]</tspan><tspan x="1222" dy="15">[15,]</tspan><tspan x="1222" dy="15">[16,]</tspan><tspan x="1222" dy="15">[17,]</tspan><tspan x="1222" dy="15">[18,]</tspan><tspan x="1222" dy="15">[19,]</tspan><tspan x="1222" dy="15">[20,]</tspan><tspan x="1222" dy="15">[21,]</tspan><tspan x="1222" dy="15">[22,]</tspan><tspan x="1222" dy="15">[23,]</tspan><tspan x="1222" dy="15">[24,]</tspan><tspan x="1222" dy="15">[25,]</tspan><tspan x="1222" dy="15">[26,]</tspan><tspan x="1222" dy="15">[27,]</tspan><tspan x="1222" dy="15">[28,]</tspan><tspan x="1222" dy="15">[29,]</tspan><tspan x="1222" dy="15">[30,]</tspan></text>
<text class="t r" y="2051.2"><tspan x="1263.3" dy="15">0</tspan><tspan x="1263.3" dy="15">0</tspan><tspan x="1263.3" dy="15">0</tspan><tspan x="1263.3" dy="15">0</tspan><tspan x="1263.3" dy="15">0</tspan><tspan x="1263.3" dy="15">0</tspan><tspan x="1263.3" dy="15">0</tspan><tspan x="1263.3" dy="15">1</tspan><tspan x="1263.3" dy="15">0</tspan><tspan x="1263.3" dy="15">0</tspan><tspan x="1263.3" dy="15">0</tspan><tspan x="1263.3" dy="15">0</tspan><tspan x="1263.3" dy="15">0</tspan><tspan x="1263.3" dy="15">0</tspan><tspan x="1263.3" dy="15">0</tspan><tspan x="1263.3" dy="15">1</tspan><tspan x="1263.3" dy="15">0</tspan><tspan x="1263.3" dy="15">0</tspan><tspan x="1263.3" dy="15">0</tspan><tspan x="1263.3" dy="15">0</tspan><tspan x="1263.3" dy="15">0</tspan><tspan x="1263.3" dy="15">0</tspan><tspan x="1263.3" dy="15">0</tspan><tspan x="1263.3" dy="15">0</tspan><tspan x="1263.3" dy="15">0</tspan><tspan x="1263.3" dy="15">0</tspan><tspan x="1263.3" dy="15">0</tspan><tspan x="1263.3" dy="15">0</tspan><tspan x="1263.3" dy="15">0</tspan><tspan x="1263.3" dy="15">0</tspan></text>
</g>

<!-- ================= PANEL 5 ================= -->
<g id="p5" transform="translate(189.4,2856.7)">
<g id="p5-connectors" class="c">
<path d="M-140.5,0H-16"/><path d="M-140.5,108H-16"/><path d="M-140.5,216H-16"/>
<path d="M9.98,2.53L128.14,32.49"/><path d="M6.38,8.09L133.14,168.77"/>
<path d="M9.19,103.34L129.25,42.47"/><path d="M9.19,112.66L129.25,173.53"/>
<path d="M6.38,207.91L133.14,47.23"/><path d="M9.98,213.47L128.14,183.51"/>
<path d="M151.17,40.68L270.26,101.5"/><path d="M151.17,175.32L270.26,114.5"/>
<path d="M301,108H425"/>
<path class="eb" d="M63.36,-77.53L133.86,24.25"/><path class="eb" d="M60.62,-76.18L137.67,166.37"/><path class="eb" d="M201.65,-76.57L277.23,94.91"/>
<text class="w" transform="translate(46.9,11.9) rotate(14.23)">23.65813</text>
<text class="w" transform="translate(28.6,33) rotate(51.74)">3.96468</text>
<text class="w" transform="translate(37.2,75.7) rotate(-26.89)">34.73452</text>
<text class="w" transform="translate(42.6,129.6) rotate(26.89)">-7.71537</text>
<text class="w" transform="translate(17.6,175.9) rotate(-51.74)">15.07495</text>
<text class="w" transform="translate(47.4,194.2) rotate(-14.23)">-14.63902</text>
<text class="w" transform="translate(187.6,61.5) rotate(27.05)">22.38622</text>
<text class="w" transform="translate(179.8,146.1) rotate(-27.05)">28.60646</text>
<text class="w wb" transform="translate(124.8,-9.9) rotate(55.29)">-35.61138</text>
<text class="w wb" transform="translate(135.7,133.7) rotate(72.38)">3.10323</text>
<text class="w wb" transform="translate(273.8,62.3) rotate(66.22)">-22.40586</text>
</g>
<g id="p5-gre"><circle class="n" cx="0" cy="0" r="10.3"/><text class="lab" x="-140.5" y="-2">gre</text></g>
<g id="p5-gpa"><circle class="n" cx="0" cy="108" r="10.3"/><text class="lab" x="-140.5" y="106">gpa</text></g>
<g id="p5-rank"><circle class="n" cx="0" cy="216" r="10.3"/><text class="lab" x="-140.5" y="214">rank</text></g>
<g id="p5-h1"><circle class="n" cx="142" cy="36" r="10.3"/></g>
<g id="p5-h2"><circle class="n" cx="142" cy="180" r="10.3"/></g>
<g id="p5-admit"><circle class="n" cx="283" cy="108" r="10.3"/><text class="lab" x="301" y="106">admit</text></g>
<g id="p5-bias1"><circle class="b" cx="57.5" cy="-86" r="10.3"/><text class="bt" x="57.5" y="-86">1</text></g>
<g id="p5-bias2"><circle class="b" cx="197.5" cy="-86" r="10.3"/><text class="bt" x="197.5" y="-86">1</text></g>
<text class="err" x="141.5" y="260.5">Error: 7.566579   Steps: 2920</text>
</g>

<g id="p5-summary">
<rect class="tb" x="646" y="2838" width="298.7" height="239.7"/>
<text class="t r" x="934.6" y="2857.8">[,1]</text>
<text class="t" y="2857.8"><tspan x="653.3" dy="15">error</tspan><tspan x="653.3" dy="15">reached.threshold</tspan><tspan x="653.3" dy="15">steps</tspan><tspan x="653.3" dy="15">Intercept.to.1layhid1</tspan><tspan x="653.3" dy="15">gre.to.1layhid1</tspan><tspan x="653.3" dy="15">gpa.to.1layhid1</tspan><tspan x="653.3" dy="15">rank.to.1layhid1</tspan><tspan x="653.3" dy="15">Intercept.to.1layhid2</tspan><tspan x="653.3" dy="15">gre.to.1layhid2</tspan><tspan x="653.3" dy="15">gpa.to.1layhid2</tspan><tspan x="653.3" dy="15">rank.to.1layhid2</tspan><tspan x="653.3" dy="15">Intercept.to.admit</tspan><tspan x="653.3" dy="15">1layhid1.to.admit</tspan><tspan x="653.3" dy="15">1layhid2.to.admit</tspan></text>
<text class="t r" y="2857.8"><tspan x="934.6" dy="15">7.566579e+00</tspan><tspan x="934.6" dy="15">9.793081e-03</tspan><tspan x="934.6" dy="15">2.920000e+03</tspan><tspan x="934.6" dy="15">-3.561138e+01</tspan><tspan x="934.6" dy="15">2.365813e+01</tspan><tspan x="934.6" dy="15">3.473452e+01</tspan><tspan x="934.6" dy="15">1.507495e+01</tspan><tspan x="934.6" dy="15">3.103234e+00</tspan><tspan x="934.6" dy="15">3.964679e+00</tspan><tspan x="934.6" dy="15">-7.715366e+00</tspan><tspan x="934.6" dy="15">-1.463902e+01</tspan><tspan x="934.6" dy="15">-2.240586e+01</tspan><tspan x="934.6" dy="15">2.238622e+01</tspan><tspan x="934.6" dy="15">2.860646e+01</tspan></text>
</g>

<g id="p5-probs">
<rect class="tb" x="996" y="2704" width="158.5" height="479.3"/>
<text class="t r" x="1147.8" y="2723.8">[,1]</text>
<text class="t r" y="2723.8"><tspan x="1041" dy="15">[1,]</tspan><tspan x="1041" dy="15">[2,]</tspan><tspan x="1041" dy="15">[3,]</tspan><tspan x="1041" dy="15">[4,]</tspan><tspan x="1041" dy="15">[5,]</tspan><tspan x="1041" dy="15">[6,]</tspan><tspan x="1041" dy="15">[7,]</tspan><tspan x="1041" dy="15">[8,]</tspan><tspan x="1041" dy="15">[9,]</tspan><tspan x="1041" dy="15">[10,]</tspan><tspan x="1041" dy="15">[11,]</tspan><tspan x="1041" dy="15">[12,]</tspan><tspan x="1041" dy="15">[13,]</tspan><tspan x="1041" dy="15">[14,]</tspan><tspan x="1041" dy="15">[15,]</tspan><tspan x="1041" dy="15">[16,]</tspan><tspan x="1041" dy="15">[17,]</tspan><tspan x="1041" dy="15">[18,]</tspan><tspan x="1041" dy="15">[19,]</tspan><tspan x="1041" dy="15">[20,]</tspan><tspan x="1041" dy="15">[21,]</tspan><tspan x="1041" dy="15">[22,]</tspan><tspan x="1041" dy="15">[23,]</tspan><tspan x="1041" dy="15">[24,]</tspan><tspan x="1041" dy="15">[25,]</tspan><tspan x="1041" dy="15">[26,]</tspan><tspan x="1041" dy="15">[27,]</tspan><tspan x="1041" dy="15">[28,]</tspan><tspan x="1041" dy="15">[29,]</tspan><tspan x="1041" dy="15">[30,]</tspan></text>
<text class="t r" y="2723.8"><tspan x="1147.8" dy="15">2.501341e-03</tspan><tspan x="1147.8" dy="15">4.950917e-01</tspan><tspan x="1147.8" dy="15">4.986924e-01</tspan><tspan x="1147.8" dy="15">4.949859e-01</tspan><tspan x="1147.8" dy="15">4.953074e-01</tspan><tspan x="1147.8" dy="15">1.649522e-05</tspan><tspan x="1147.8" dy="15">2.551480e-10</tspan><tspan x="1147.8" dy="15">2.273816e-01</tspan><tspan x="1147.8" dy="15">1.957788e-10</tspan><tspan x="1147.8" dy="15">3.179434e-10</tspan><tspan x="1147.8" dy="15">1.942391e-10</tspan><tspan x="1147.8" dy="15">3.636610e-04</tspan><tspan x="1147.8" dy="15">4.111610e-03</tspan><tspan x="1147.8" dy="15">2.258315e-08</tspan><tspan x="1147.8" dy="15">1.804663e-02</tspan><tspan x="1147.8" dy="15">7.852405e-05</tspan><tspan x="1147.8" dy="15">1.439365e-01</tspan><tspan x="1147.8" dy="15">4.587956e-01</tspan><tspan x="1147.8" dy="15">1.107256e-07</tspan><tspan x="1147.8" dy="15">1.859725e-10</tspan><tspan x="1147.8" dy="15">5.570625e-10</tspan><tspan x="1147.8" dy="15">4.951926e-01</tspan><tspan x="1147.8" dy="15">4.526707e-07</tspan><tspan x="1147.8" dy="15">4.951120e-01</tspan><tspan x="1147.8" dy="15">7.633481e-01</tspan><tspan x="1147.8" dy="15">4.965128e-01</tspan><tspan x="1147.8" dy="15">4.952172e-01</tspan><tspan x="1147.8" dy="15">8.212537e-02</tspan><tspan x="1147.8" dy="15">1.865477e-10</tspan><tspan x="1147.8" dy="15">1.610142e-08</tspan></text>
</g>

<g id="p5-class">
<rect class="tb" x="1176.6" y="2702.3" width="100.7" height="477.7"/>
<text class="t r" x="1264.5" y="2720.2">[,1]</text>
<text class="t r" y="2720.2"><tspan x="1223.5" dy="15">[1,]</tspan><tspan x="1223.5" dy="15">[2,]</tspan><tspan x="1223.5" dy="15">[3,]</tspan><tspan x="1223.5" dy="15">[4,]</tspan><tspan x="1223.5" dy="15">[5,]</tspan><tspan x="1223.5" dy="15">[6,]</tspan><tspan x="1223.5" dy="15">[7,]</tspan><tspan x="1223.5" dy="15">[8,]</tspan><tspan x="1223.5" dy="15">[9,]</tspan><tspan x="1223.5" dy="15">[10,]</tspan><tspan x="1223.5" dy="15">[11,]</tspan><tspan x="1223.5" dy="15">[12,]</tspan><tspan x="1223.5" dy="15">[13,]</tspan><tspan x="1223.5" dy="15">[14,]</tspan><tspan x="1223.5" dy="15">[15,]</tspan><tspan x="1223.5" dy="15">[16,]</tspan><tspan x="1223.5" dy="15">[17,]</tspan><tspan x="1223.5" dy="15">[18,]</tspan><tspan x="1223.5" dy="15">[19,]</tspan><tspan x="1223.5" dy="15">[20,]</tspan><tspan x="1223.5" dy="15">[21,]</tspan><tspan x="1223.5" dy="15">[22,]</tspan><tspan x="1223.5" dy="15">[23,]</tspan><tspan x="1223.5" dy="15">[24,]</tspan><tspan x="1223.5" dy="15">[25,]</tspan><tspan x="1223.5" dy="15">[26,]</tspan><tspan x="1223.5" dy="15">[27,]</tspan><tspan x="1223.5" dy="15">[28,]</tspan><tspan x="1223.5" dy="15">[29,]</tspan><tspan x="1223.5" dy="15">[30,]</tspan></text>
<text class="t r" y="2720.2"><tspan x="1264.5" dy="15">0</tspan><tspan x="1264.5" dy="15">0</tspan><tspan x="1264.5" dy="15">0</tspan><tspan x="1264.5" dy="15">0</tspan><tspan x="1264.5" dy="15">0</tspan><tspan x="1264.5" dy="15">0</tspan><tspan x="1264.5" dy="15">0</tspan><tspan x="1264.5" dy="15">0</tspan><tspan x="1264.5" dy="15">0</tspan><tspan x="1264.5" dy="15">0</tspan><tspan x="1264.5" dy="15">0</tspan><tspan x="1264.5" dy="15">0</tspan><tspan x="1264.5" dy="15">0</tspan><tspan x="1264.5" dy="15">0</tspan><tspan x="1264.5" dy="15">0</tspan><tspan x="1264.5" dy="15">0</tspan><tspan x="1264.5" dy="15">0</tspan><tspan x="1264.5" dy="15">0</tspan><tspan x="1264.5" dy="15">0</tspan><tspan x="1264.5" dy="15">0</tspan><tspan x="1264.5" dy="15">0</tspan><tspan x="1264.5" dy="15">0</tspan><tspan x="1264.5" dy="15">0</tspan><tspan x="1264.5" dy="15">0</tspan><tspan x="1264.5" dy="15">1</tspan><tspan x="1264.5" dy="15">0</tspan><tspan x="1264.5" dy="15">0</tspan><tspan x="1264.5" dy="15">0</tspan><tspan x="1264.5" dy="15">0</tspan><tspan x="1264.5" dy="15">0</tspan></text>
</g>
</svg>
